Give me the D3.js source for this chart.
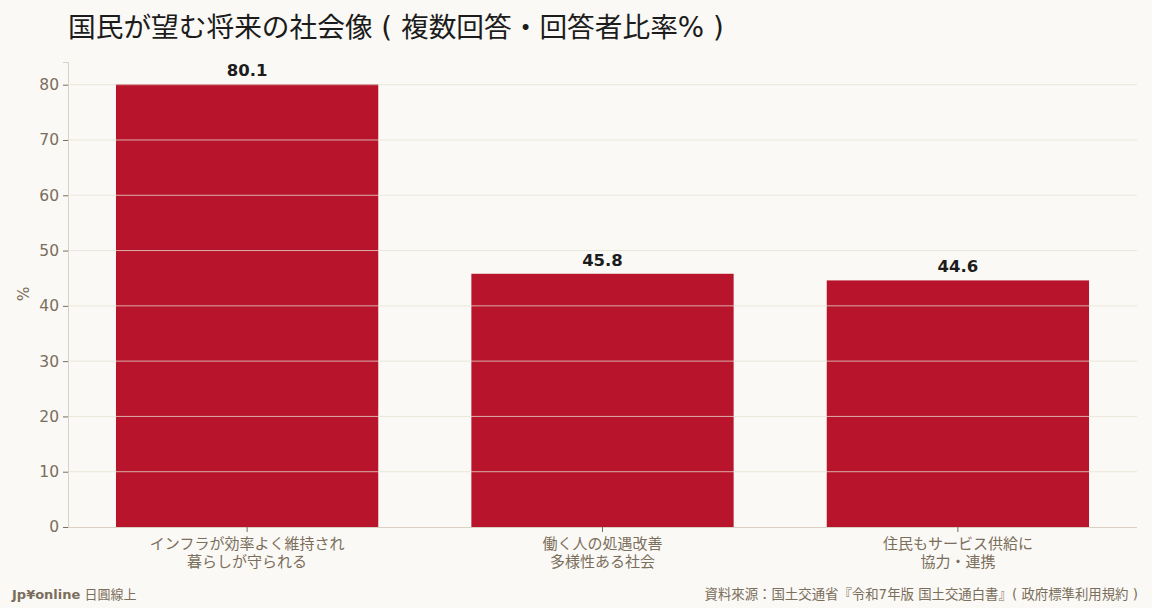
<!DOCTYPE html>
<html>
<head>
<meta charset="utf-8">
<script src="https://cdn.jsdelivr.net/npm/d3@7"></script>
<style>
  html, body { margin: 0; padding: 0; background: #faf9f5; }
  svg { display: block; }
  text { font-family: "DejaVu Sans", "Noto Sans CJK JP", sans-serif; }
  .cjk { font-family: "Noto Sans CJK JP", sans-serif; }
</style>
</head>
<body>
<div id="chart"></div>
<script>
// data
var categories = ["インフラが効率よく維持され\n暮らしが守られる", "働く人の処遇改善\n多様性ある社会", "住民もサービス供給に\n協力・連携"];
var values = [80.1, 45.8, 44.6];
var yTicks = [0, 10, 20, 30, 40, 50, 60, 70, 80];

var width = 1152, height = 608,
	margin = {top: 62, right: 15, bottom: 81, left: 68},
	barColor = "#b8152d",
	tickColor = "#7a6e5c",
	spineColor = "#d9d2c4",
	gridColor = "#e6e0d3";

var svg = d3.select("#chart")
	.append("svg")
	.attr("width", width)
	.attr("height", height);

svg.append("rect")
	.attr("width", width)
	.attr("height", height)
	.attr("fill", "#faf9f5");

var x = d3.scaleBand()
	.domain(categories)
	.range([margin.left, width - margin.right])
	.paddingInner(0.262)
	.paddingOuter(0.135);

var y = d3.scaleLinear()
	.domain([0, d3.max(values) * 1.05])
	.range([height - margin.bottom, margin.top]);

var data = categories.map(function(c, i) { return {cat: c, value: values[i]}; });

// bars
svg.selectAll("rect.bar")
	.data(data)
	.enter()
	.append("rect")
	.attr("class", "bar")
	.attr("x", function(d) { return x(d.cat); })
	.attr("width", x.bandwidth())
	.attr("y", function(d) { return y(d.value); })
	.attr("height", function(d) { return y(0) - y(d.value); })
	.attr("fill", barColor);

// grid drawn on top of bars, like the reference
svg.append("g")
	.selectAll("line")
	.data(yTicks.slice(1))
	.enter()
	.append("line")
	.attr("x1", margin.left)
	.attr("x2", width - margin.right)
	.attr("y1", function(d) { return y(d); })
	.attr("y2", function(d) { return y(d); })
	.attr("stroke", gridColor)
	.attr("stroke-opacity", 0.75)
	.attr("stroke-width", 1);

// y axis
var yAxis = svg.append("g")
	.attr("transform", "translate(" + margin.left + ",0)")
	.call(d3.axisLeft(y).tickValues(yTicks).tickSize(5).tickPadding(4));
yAxis.select(".domain").attr("stroke", spineColor);
yAxis.selectAll(".tick line").attr("stroke", tickColor);
yAxis.selectAll(".tick text")
	.attr("fill", tickColor)
	.style("font-size", "15.5px")
	.style("font-family", "'DejaVu Sans', sans-serif");

// x axis
var xAxis = svg.append("g")
	.attr("transform", "translate(0," + y(0) + ")")
	.call(d3.axisBottom(x).tickSize(5).tickSizeOuter(0));
xAxis.select(".domain")
	.attr("stroke", spineColor)
	.attr("d", "M" + margin.left + ",0.5H" + (width - margin.right));
xAxis.selectAll(".tick line").attr("stroke", tickColor);
xAxis.selectAll(".tick text").remove();
xAxis.selectAll(".tick").each(function(d) {
	var t = d3.select(this).append("text")
		.attr("class", "cjk")
		.attr("fill", tickColor)
		.attr("text-anchor", "middle")
		.style("font-size", "15px");
	d.split("\n").forEach(function(line, i) {
		t.append("tspan")
			.attr("x", 0)
			.attr("y", 22 + i * 18)
			.text(line);
	});
});

// left spine top extends to the top of the plot
svg.append("line")
	.attr("x1", margin.left + 0.5).attr("x2", margin.left + 0.5)
	.attr("y1", margin.top).attr("y2", y(0))
	.attr("stroke", spineColor);

// value labels
svg.selectAll("text.value")
	.data(data)
	.enter()
	.append("text")
	.attr("class", "value")
	.attr("x", function(d) { return x(d.cat) + x.bandwidth() / 2; })
	.attr("y", function(d) { return y(d.value) - 8; })
	.attr("text-anchor", "middle")
	.attr("fill", "#1c1c1c")
	.style("font-size", "16.5px")
	.style("font-weight", "bold")
	.text(function(d) { return d.value.toFixed(1); });

// y label
svg.append("text")
	.attr("transform", "translate(29," + (y(40) - 12) + ") rotate(-90)")
	.attr("text-anchor", "middle")
	.attr("fill", tickColor)
	.style("font-size", "15.5px")
	.text("%");

// title
svg.append("text")
	.attr("x", margin.left)
	.attr("y", 37)
	.attr("fill", "#1c1c1c")
	.style("font-size", "27.7px")
	.text("国民が望む将来の社会像 ( 複数回答・回答者比率% )");

// footer
var foot = svg.append("text")
	.attr("x", 12)
	.attr("y", 599)
	.attr("fill", tickColor)
	.style("font-size", "13px");
foot.append("tspan").style("font-weight", "bold").text("Jp¥online");
foot.append("tspan").text(" 日圓線上");

svg.append("text")
	.attr("x", width - 14)
	.attr("y", 599)
	.attr("text-anchor", "end")
	.attr("fill", tickColor)
	.style("font-size", "13.4px")
	.text("資料來源：国土交通省『令和7年版 国土交通白書』( 政府標準利用規約 )");
</script>
</body>
</html>
